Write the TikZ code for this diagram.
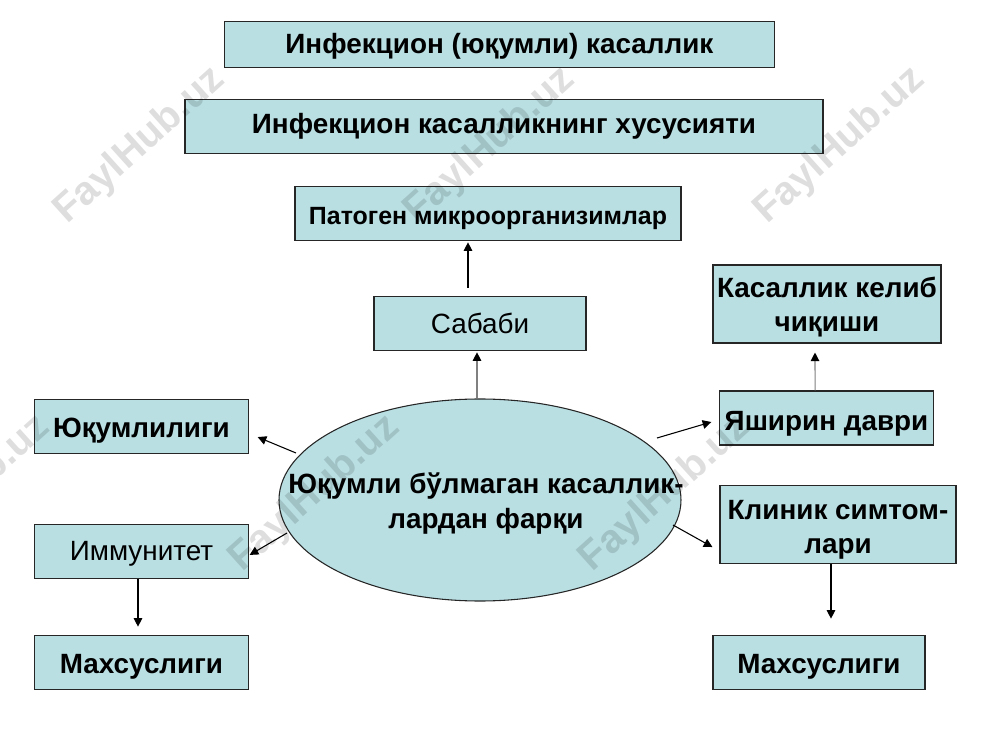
\documentclass[tikz,border=0pt]{standalone}
\usepackage{fontspec}
\setmainfont{Liberation Sans}
\usetikzlibrary{arrows.meta, shapes.geometric}

\definecolor{boxfill}{HTML}{B9DFE3}
\newcommand{\lifted}[1]{\rule{0pt}{#1}}

\begin{document}
\begin{tikzpicture}[
		node distance=0pt,
		vertex/.style={rectangle,draw=black!85,fill=boxfill,line width=0.8pt,inner sep=0pt,align=center,font=\fontsize{20.9}{26}\selectfont\bfseries},
		plainvertex/.style={vertex,font=\fontsize{20.9}{26}\selectfont},
		link/.style={-{Triangle[length=6.5pt,width=6.5pt]},line width=0.8pt},
		greylink/.style={-{Triangle[length=6.5pt,width=6.5pt,black]},line width=0.8pt,draw=black!50},
		stamp/.style={rotate=42,text=black,opacity=0.13,font=\fontsize{30}{30}\selectfont\bfseries}
		]
		\useasboundingbox (-360pt,-187.5pt) rectangle (390pt,375pt);

		\node[draw=black!85, fill=boxfill, line width=0.8pt, ellipse, inner sep=0pt, minimum width=301.5pt, minimum height=151.5pt,
		label={[align=center, font=\fontsize{20.9}{26}\selectfont\bfseries, xshift=4.5pt, yshift=-2.75pt]center:Юқумли бўлмаган касаллик-\\лардан фарқи}](S0){};
		\node[vertex, above of = S0, xshift = 14.6pt, yshift = 341.6pt, minimum width=413pt, minimum height=35pt](S1){\lifted{18pt}Инфекцион (юқумли) касаллик};
		\node[vertex, above of = S0, xshift = 18pt, yshift = 280.1pt, minimum width=478.5pt, minimum height=41pt](S2){Инфекцион касалликнинг хусусияти};
		\node[vertex, above of = S0, xshift = 6pt, yshift = 214.9pt, minimum width=289.5pt, minimum height=41pt, font=\fontsize{18.7}{24}\selectfont\bfseries](S3){\lifted{21pt}Патоген микроорганизимлар};
		\node[plainvertex, above of = S0, yshift = 132.4pt, minimum width=159pt, minimum height=41pt](S4){Сабаби};
		\node[vertex, above of = S0, xshift = 260.25pt, yshift = 147pt, minimum width=171pt, minimum height=58.5pt](S5){\lifted{19.7pt}Касаллик келиб\\чиқиши};
		\node[vertex, above of = S0, xshift = 259.9pt, yshift = 61.5pt, minimum width=160pt, minimum height=40.5pt](S6){\lifted{22.5pt}Яширин даври};
		\node[vertex, below of = S0, xshift = 268.5pt, yshift = -18.4pt, minimum width=177pt, minimum height=59pt](S7){\lifted{22.5pt}Клиник симтом-\\лари};
		\node[vertex, below of = S0, xshift = 254.25pt, yshift = -121.9pt, minimum width=159pt, minimum height=41pt](S8){\lifted{21pt}Махсуслиги};
		\node[vertex, above of = S0, xshift = -253.9pt, yshift = 55.1pt, minimum width=160pt, minimum height=41pt](S9){\lifted{21pt}Юқумлилиги};
		\node[plainvertex, below of = S0, xshift = -253.9pt, yshift = -38.6pt, minimum width=160pt, minimum height=41pt](S10){\lifted{18.5pt}Иммунитет};
		\node[vertex, below of = S0, xshift = -253.9pt, yshift = -121.9pt, minimum width=160pt, minimum height=41pt](S11){\lifted{21pt}Махсуслиги};

		\draw[link] ([xshift=-9pt,yshift=6pt]S4.north) -- ([xshift=-15pt,yshift=-0.75pt]S3.south);
		\draw[greylink] ([xshift=-2.25pt]S0.north) -- ([xshift=-2.25pt,yshift=-0.75pt]S4.south);
		\draw[link] ([xshift=-138pt,yshift=35.25pt]S0.center) -- ([xshift=6.75pt,yshift=-7.9pt]S9.east);
		\draw[link] ([xshift=-144.75pt,yshift=-24.75pt]S0.center) -- ([xshift=0.75pt,yshift=-2.6pt]S10.east);
		\draw[link] ([xshift=132.75pt,yshift=46.5pt]S0.center) -- ([xshift=-6pt,yshift=-3pt]S6.west);
		\draw[link] ([xshift=144.75pt,yshift=-18.75pt]S0.center) -- ([xshift=-5.25pt,yshift=-16.9pt]S7.west);
		\draw[greylink] ([xshift=-8.6pt]S6.north) -- ([xshift=-9pt,yshift=-6.75pt]S5.south);
		\draw[link] ([xshift=-2.6pt]S10.south) -- ([xshift=-2.6pt,yshift=6pt]S11.north);
		\draw[link] ([xshift=-5.25pt]S7.south) -- ([xshift=9pt,yshift=12pt]S8.north);

		\foreach \name/\xpos/\ypos in {W1/-255/266, W2/7.5/266, W3/270/266, W4/-386/5, W5/-124/5, W6/139/5}
			\node[stamp] (\name) at (\xpos pt,\ypos pt) {FaylHub.uz};
	\end{tikzpicture}
\end{document}
